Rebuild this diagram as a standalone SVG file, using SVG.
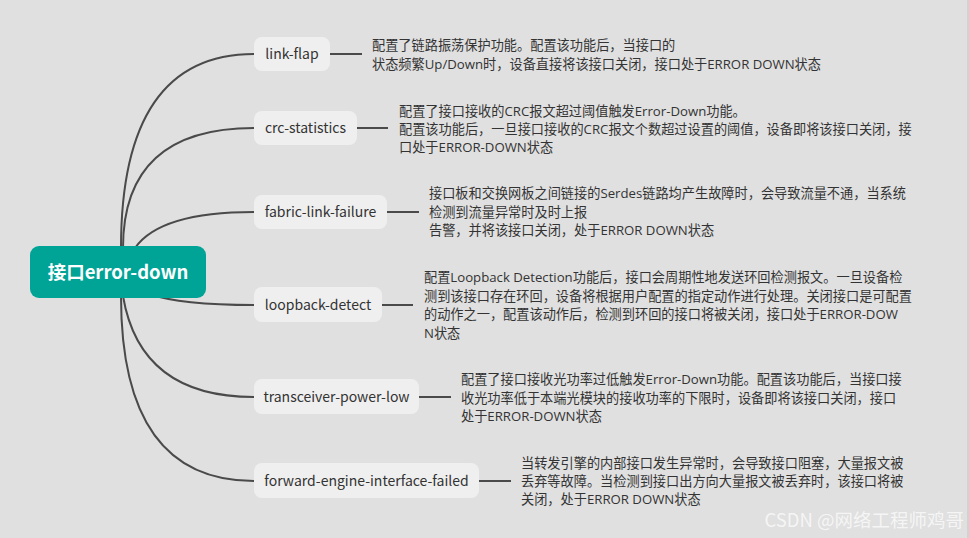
<svg xmlns="http://www.w3.org/2000/svg" width="969" height="538" viewBox="0 0 969 538">
<style>
.bg{fill:#e0e0e0}
.conn{fill:none;stroke:#4a4a4a;stroke-width:2}
.node rect{fill:#efefef}
.node text{font-family:"Noto Sans CJK SC","Noto Sans",sans-serif;font-size:14px;fill:#333}
.desc{font-family:"Open Sans","Noto Sans CJK SC",sans-serif;font-size:13.2px;fill:#333}
.root rect{fill:#00a497}
.root text{font-family:"Noto Sans CJK SC","Noto Sans",sans-serif;font-size:18.5px;font-weight:bold;fill:#fff}
.wm{font-family:"Noto Sans CJK SC",sans-serif;font-size:18.5px;fill:#ffffff;fill-opacity:0.7}
</style>
<rect class="bg" x="0" y="0" width="969" height="538"/>
<line x1="968" y1="0" x2="968" y2="538" stroke="#c4c4c4" stroke-width="1"/>
<g id="connectors">
<path class="conn" d="M121,248 Q121,54 254,54"/>
<path class="conn" d="M123,248 Q123,128 254,128"/>
<path class="conn" d="M135,248 Q160,212 254,212"/>
<path class="conn" d="M150,294 Q180,305 254,305"/>
<path class="conn" d="M123,296 Q140,397 254,397"/>
<path class="conn" d="M121,296 Q121,481 254,481"/>
<line class="conn" x1="330" y1="54" x2="362" y2="54"/>
<line class="conn" x1="357" y1="128" x2="388" y2="128"/>
<line class="conn" x1="387" y1="212" x2="419" y2="212"/>
<line class="conn" x1="382" y1="305" x2="413" y2="305"/>
<line class="conn" x1="419" y1="397" x2="451" y2="397"/>
<line class="conn" x1="479" y1="481" x2="511" y2="481"/>
</g>
<g id="root" class="root">
<rect x="30" y="246" width="176" height="52" rx="9"/>
<text x="118" y="279" text-anchor="middle">接口error-down</text>
</g>
<g id="link-flap" class="node">
<rect x="254" y="37" width="76" height="34" rx="8"/>
<text x="292" y="59" text-anchor="middle">link-flap</text>
</g>
<g id="link-flap-desc">
<text class="desc" x="372" y="50">配置了链路振荡保护功能。配置该功能后，当接口的</text>
<text class="desc" x="372" y="69">状态频繁Up/Down时，设备直接将该接口关闭，接口处于ERROR DOWN状态</text>
</g>
<g id="crc-statistics" class="node">
<rect x="254" y="111" width="103" height="34" rx="8"/>
<text x="305.5" y="133" text-anchor="middle">crc-statistics</text>
</g>
<g id="crc-statistics-desc">
<text class="desc" x="399" y="116">配置了接口接收的CRC报文超过阈值触发Error-Down功能。</text>
<text class="desc" x="399" y="134">配置该功能后，一旦接口接收的CRC报文个数超过设置的阈值，设备即将该接口关闭，接</text>
<text class="desc" x="399" y="152">口处于ERROR-DOWN状态</text>
</g>
<g id="fabric-link-failure" class="node">
<rect x="254" y="195" width="133" height="34" rx="8"/>
<text x="320.5" y="217" text-anchor="middle">fabric-link-failure</text>
</g>
<g id="fabric-link-failure-desc">
<text class="desc" x="429" y="198">接口板和交换网板之间链接的Serdes链路均产生故障时，会导致流量不通，当系统</text>
<text class="desc" x="429" y="217">检测到流量异常时及时上报</text>
<text class="desc" x="429" y="235">告警，并将该接口关闭，处于ERROR DOWN状态</text>
</g>
<g id="loopback-detect" class="node">
<rect x="254" y="287" width="128" height="35" rx="8"/>
<text x="318" y="310" text-anchor="middle">loopback-detect</text>
</g>
<g id="loopback-detect-desc">
<text class="desc" x="424" y="282">配置Loopback Detection功能后，接口会周期性地发送环回检测报文。一旦设备检</text>
<text class="desc" x="424" y="301">测到该接口存在环回，设备将根据用户配置的指定动作进行处理。关闭接口是可配置</text>
<text class="desc" x="424" y="319">的动作之一，配置该动作后，检测到环回的接口将被关闭，接口处于ERROR-DOW</text>
<text class="desc" x="424" y="338">N状态</text>
</g>
<g id="transceiver-power-low" class="node">
<rect x="254" y="379" width="165" height="35" rx="8"/>
<text x="336.5" y="402" text-anchor="middle">transceiver-power-low</text>
</g>
<g id="transceiver-power-low-desc">
<text class="desc" x="461" y="384">配置了接口接收光功率过低触发Error-Down功能。配置该功能后，当接口接</text>
<text class="desc" x="461" y="403">收光功率低于本端光模块的接收功率的下限时，设备即将该接口关闭，接口</text>
<text class="desc" x="461" y="421">处于ERROR-DOWN状态</text>
</g>
<g id="forward-engine-interface-failed" class="node">
<rect x="254" y="463" width="225" height="35" rx="8"/>
<text x="366.5" y="486" text-anchor="middle">forward-engine-interface-failed</text>
</g>
<g id="forward-engine-interface-failed-desc">
<text class="desc" x="521" y="468">当转发引擎的内部接口发生异常时，会导致接口阻塞，大量报文被</text>
<text class="desc" x="521" y="486">丢弃等故障。当检测到接口出方向大量报文被丢弃时，该接口将被</text>
<text class="desc" x="521" y="504">关闭，处于ERROR DOWN状态</text>
</g>
<text class="wm" x="964" y="527" text-anchor="end">CSDN @网络工程师鸡哥</text>
</svg>
